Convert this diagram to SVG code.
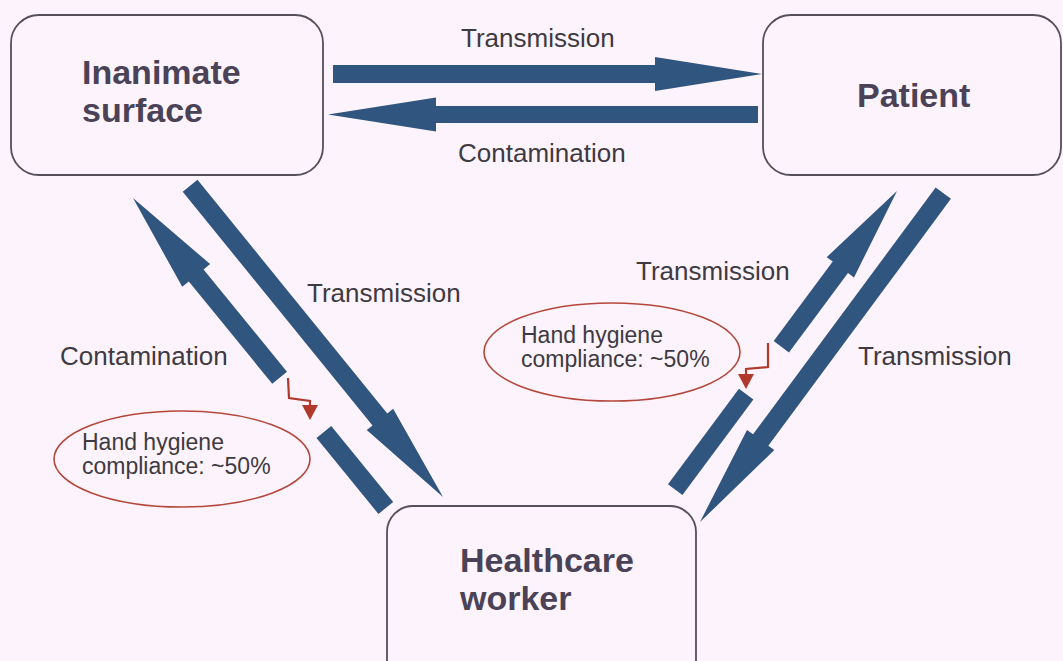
<svg xmlns="http://www.w3.org/2000/svg" width="1063" height="661" viewBox="0 0 1063 661">
  <style>
    .bg { fill: #fdf3fc; }
    .box { fill: none; stroke: #55505a; stroke-width: 1.8; }
    .title { font-family: "Liberation Sans", Arial, sans-serif; font-weight: bold; font-size: 34px; fill: #4a4256; }
    .label { font-family: "Liberation Sans", Arial, sans-serif; font-size: 26px; fill: #3d3a42; }
    .note { font-family: "Liberation Sans", Arial, sans-serif; font-size: 23px; fill: #3d3a42; }
    .oval { fill: none; stroke: #b5483c; stroke-width: 1.6; }
    .arrow { fill: #30557f; }
    .bolt { fill: none; stroke: #b0392c; stroke-width: 2.2; }
    .bolt-head { fill: #b0392c; }
  </style>

  <rect class="bg" x="0" y="0" width="1063" height="661"/>

  <!-- Transfer paths between surface, patient and worker -->
  <g id="connectors">
    <!-- surface -> patient -->
    <polygon class="arrow" transform="translate(762,74) rotate(180)"
             points="0,0 107,-17 107,-9 429,-9 429,9 107,9 107,17"/>
    <!-- patient -> surface -->
    <polygon class="arrow" transform="translate(328,114.5) rotate(0)"
             points="0,0 108,-17 108,-8.5 430,-8.5 430,8.5 108,8.5 108,17"/>

    <!-- worker -> surface (interrupted by hand hygiene) -->
    <g transform="translate(133,198) rotate(50.8)">
      <polygon class="arrow" points="0,0 100,-18 100,-9.5 232,-9.5 232,9.5 100,9.5 100,18"/>
      <rect class="arrow" x="302" y="-9.5" width="98" height="19"/>
    </g>
    <!-- surface -> worker -->
    <polygon class="arrow" transform="translate(443,497) rotate(-129.1)"
             points="0,0 100,-17 100,-9.5 401,-9.5 401,9.5 100,9.5 100,17"/>

    <!-- worker -> patient (interrupted by hand hygiene) -->
    <g transform="translate(897,191) rotate(126.6)">
      <polygon class="arrow" points="0,0 95,-17 95,-9.5 194,-9.5 194,9.5 95,9.5 95,17"/>
      <rect class="arrow" x="253" y="-9" width="119" height="18"/>
    </g>
    <!-- patient -> worker -->
    <polygon class="arrow" transform="translate(700,522) rotate(-53.5)"
             points="0,0 102,-17 102,-9.5 409,-9.5 409,9.5 102,9.5 102,17"/>

    <!-- hand hygiene breaks -->
    <polyline class="bolt" points="288,378 289,398 310,401 310,407"/>
    <polygon class="bolt-head" points="302,405 318,405 310,420"/>
    <polyline class="bolt" points="768,343 768,367 746,369 746,375"/>
    <polygon class="bolt-head" points="738,374 754,374 746,389"/>

    <text class="label" x="461" y="47">Transmission</text>
    <text class="label" x="458" y="162">Contamination</text>
    <text class="label" x="307" y="302">Transmission</text>
    <text class="label" x="60" y="365">Contamination</text>
    <text class="label" x="636" y="280">Transmission</text>
    <text class="label" x="858" y="365">Transmission</text>
  </g>

  <g id="inanimate-surface">
    <rect class="box" x="11" y="15" width="312" height="160" rx="28" ry="28"/>
    <text class="title" x="82" y="84">Inanimate</text>
    <text class="title" x="82" y="122">surface</text>
  </g>

  <g id="patient">
    <rect class="box" x="763" y="15" width="298" height="160" rx="28" ry="28"/>
    <text class="title" x="857" y="107">Patient</text>
  </g>

  <g id="healthcare-worker">
    <rect class="box" x="387" y="506" width="309" height="200" rx="26" ry="26"/>
    <text class="title" x="460" y="572">Healthcare</text>
    <text class="title" x="460" y="610">worker</text>
  </g>

  <g id="hygiene-left">
    <ellipse class="oval" cx="182" cy="459" rx="128" ry="48"/>
    <text class="note" x="82" y="450">Hand hygiene</text>
    <text class="note" x="82" y="474">compliance: ~50%</text>
  </g>

  <g id="hygiene-right">
    <ellipse class="oval" cx="612" cy="352" rx="128" ry="49"/>
    <text class="note" x="521" y="343">Hand hygiene</text>
    <text class="note" x="521" y="367">compliance: ~50%</text>
  </g>
</svg>
